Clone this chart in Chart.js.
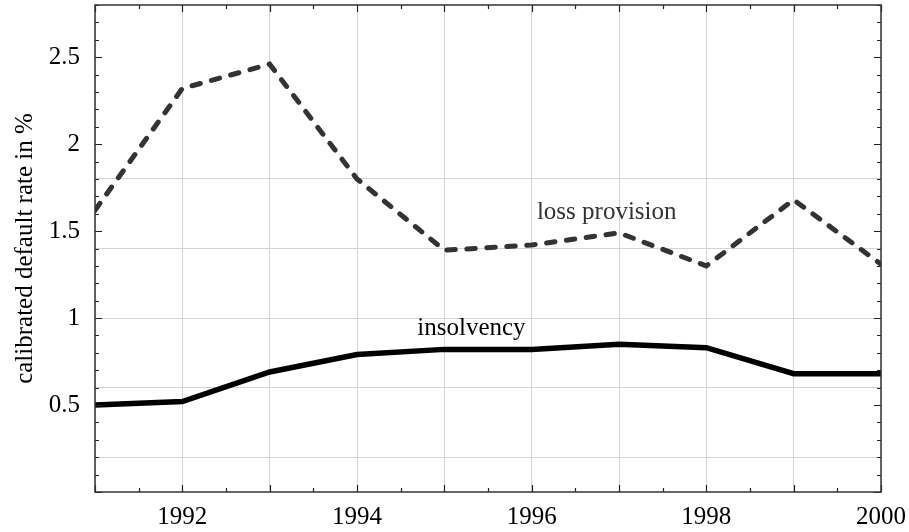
<!DOCTYPE html>
<html>
<head>
<meta charset="utf-8">
<script src="https://cdn.jsdelivr.net/npm/chart.js@4.4.1/dist/chart.umd.min.js"></script>
<style>
  html, body { margin: 0; padding: 0; background: #fff; }
</style>
</head>
<body>
<canvas id="rateChart" width="909" height="532"></canvas>
<script>
// calibrated default rates
const years = [1991, 1992, 1993, 1994, 1995, 1996, 1997, 1998, 1999, 2000];
const lossProvision = [1.62, 2.32, 2.46, 1.80, 1.39, 1.42, 1.49, 1.30, 1.68, 1.31];
const insolvency = [0.50, 0.52, 0.69, 0.79, 0.82, 0.82, 0.85, 0.83, 0.68, 0.68];

const yLabelValues = [0.5, 1, 1.5, 2, 2.5];
const yGridValues = [0.2, 0.6, 1.0, 1.4, 1.8];
const xLabelYears = [1992, 1994, 1996, 1998, 2000];

const FONT = "'Liberation Serif', 'Times New Roman', serif";
const toPoints = vals => years.map((yr, i) => ({ x: yr, y: vals[i] }));
const tenths = v => Math.round(v * 10);

// inward ticks on all four sides, frame and the two curve notes
const frameTicks = {
  id: 'frameTicks',
  afterDraw(chart) {
    const { ctx, chartArea: a, scales: { x, y } } = chart;
    ctx.save();
    ctx.strokeStyle = '#222';
    ctx.lineWidth = 1.2;
    ctx.beginPath();
    x.ticks.forEach(t => {
      const px = Math.round(x.getPixelForValue(t.value)) + 0.5;
      const len = tenths(t.value) % 10 === 0 ? 7 : 4;
      ctx.moveTo(px, a.bottom); ctx.lineTo(px, a.bottom - len);
      ctx.moveTo(px, a.top); ctx.lineTo(px, a.top + len);
    });
    y.ticks.forEach(t => {
      const py = Math.round(y.getPixelForValue(t.value)) + 0.5;
      const len = tenths(t.value) % 5 === 0 ? 7 : 4;
      ctx.moveTo(a.left, py); ctx.lineTo(a.left + len, py);
      ctx.moveTo(a.right, py); ctx.lineTo(a.right - len, py);
    });
    ctx.stroke();
    ctx.lineWidth = 1.5;
    ctx.strokeStyle = '#333';
    ctx.strokeRect(a.left, a.top, a.width, a.height);

    ctx.font = '25px ' + FONT;
    ctx.textAlign = 'left';
    ctx.textBaseline = 'alphabetic';
    ctx.fillStyle = '#333';
    ctx.fillText('loss provision', x.getPixelForValue(1996.06), y.getPixelForValue(1.571));
    ctx.fillStyle = '#000';
    ctx.fillText('insolvency', x.getPixelForValue(1994.69), y.getPixelForValue(0.904));
    ctx.restore();
  }
};

new Chart(document.getElementById('rateChart'), {
  type: 'line',
  data: {
    datasets: [
      {
        label: 'loss provision',
        data: toPoints(lossProvision),
        borderColor: '#333',
        borderWidth: 5,
        borderDash: [8.5, 11.5],
        borderCapStyle: 'round',
        pointRadius: 0,
        tension: 0,
      },
      {
        label: 'insolvency',
        data: toPoints(insolvency),
        borderColor: '#000',
        borderWidth: 5.5,
        pointRadius: 0,
        tension: 0,
      },
    ],
  },
  options: {
    responsive: false,
    animation: false,
    layout: { padding: { top: 5, right: 28, left: 0, bottom: 0 } },
    plugins: {
      legend: { display: false },
      tooltip: { enabled: false },
    },
    scales: {
      x: {
        type: 'linear',
        min: 1991,
        max: 2000,
        afterFit: s => { s.height = 40; s.paddingLeft = 0; s.paddingRight = 0; },
        border: { display: false },
        grid: {
          drawTicks: false,
          color: c => Number.isInteger(c.tick.value) ? '#d4d4d4' : 'rgba(0,0,0,0)',
          lineWidth: 1,
        },
        ticks: {
          stepSize: 0.5,
          autoSkip: false,
          maxRotation: 0,
          padding: 10,
          color: '#000',
          font: { family: FONT, size: 25 },
          callback: v => xLabelYears.includes(v) ? String(v) : '',
        },
      },
      y: {
        min: 0,
        max: 2.8,
        afterFit: s => { s.width = 95; s.paddingTop = 0; s.paddingBottom = 0; },
        border: { display: false },
        grid: {
          drawTicks: false,
          color: c => yGridValues.some(g => tenths(g) === tenths(c.tick.value)) ? '#d4d4d4' : 'rgba(0,0,0,0)',
          lineWidth: 1,
        },
        ticks: {
          stepSize: 0.1,
          maxTicksLimit: 40,
          autoSkip: false,
          padding: 15,
          color: '#000',
          font: { family: FONT, size: 25 },
          callback: v => {
            const hit = yLabelValues.find(l => tenths(l) === tenths(v));
            return hit === undefined ? '' : String(hit);
          },
        },
        title: {
          display: true,
          text: 'calibrated default rate in %',
          color: '#000',
          font: { family: FONT, size: 25 },
          padding: { top: 10, bottom: 0 },
        },
      },
    },
  },
  plugins: [frameTicks],
});
</script>
</body>
</html>
